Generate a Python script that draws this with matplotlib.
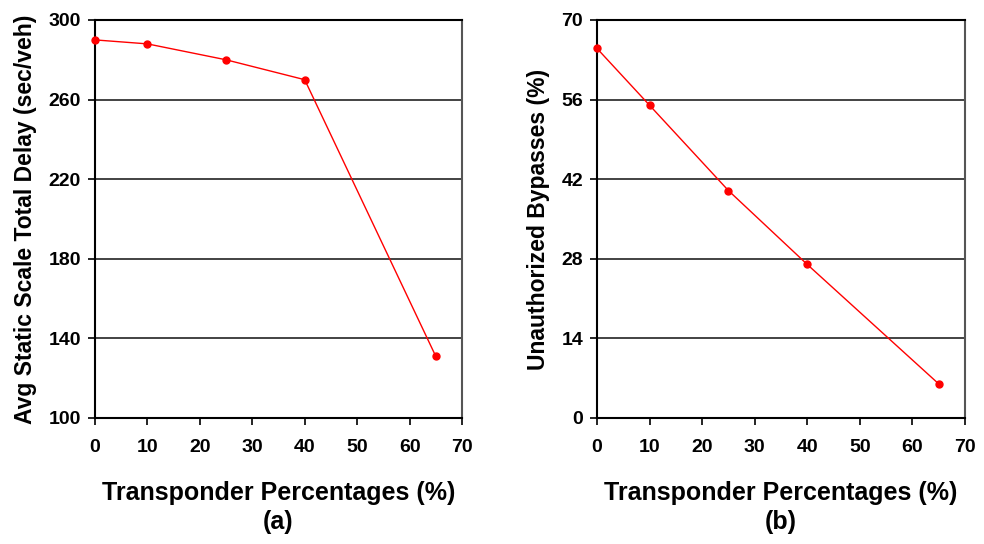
import matplotlib
matplotlib.use("Agg")
import matplotlib.pyplot as plt

x_pct = [0, 10, 25, 40, 65]
delay = [290, 288, 280, 270, 131]
bypass = [65, 55, 40, 27, 6]

xticks = [0, 10, 20, 30, 40, 50, 60, 70]
yticks_a = [100, 140, 180, 220, 260, 300]
yticks_b = [0, 14, 28, 42, 56, 70]

plt.rcParams['font.family'] = ['Liberation Sans', 'DejaVu Sans']
plt.rcParams['font.weight'] = 'bold'

fig = plt.figure(figsize=(9.84, 5.44), dpi=100)
ax1 = fig.add_axes([95/984, 126/544, 367/984, 398/544])
ax2 = fig.add_axes([597/984, 126/544, 368/984, 398/544])

panels = [
    (ax1, delay, yticks_a, "Avg Static Scale Total Delay (sec/veh)", "(a)"),
    (ax2, bypass, yticks_b, "Unauthorized Bypasses (%)", "(b)"),
]
for ax, y, yt, ylab, tag in panels:
    ax.plot(x_pct, y, color='red', lw=1.0, marker='o', ms=5, zorder=3, clip_on=False)
    ax.set_xlim(0, 70)
    ax.set_ylim(yt[0], yt[-1])
    ax.set_xticks(xticks)
    ax.set_yticks(yt)
    ax.tick_params(axis='x', direction='out', length=5, width=1.2, labelsize=14, pad=10)
    ax.tick_params(axis='y', direction='out', length=5, width=1.2, labelsize=14, pad=5)
    for lab in ax.get_xticklabels() + ax.get_yticklabels():
        lab.set_fontweight('bold')
    ax.yaxis.grid(True, color='#222222', lw=1.2)
    ax.set_axisbelow(True)
    for s in ax.spines.values():
        s.set_linewidth(1.5)
        s.set_color('black')
    ax.spines['right'].set_color('#555555')
    ax.set_ylabel(ylab, fontsize=16.5, fontweight='bold', labelpad=8)
    ax.set_xlabel("Transponder Percentages (%)\n" + tag,
                  fontsize=18, fontweight='bold', labelpad=18, linespacing=1.25)

fig.savefig("out.png", dpi=100)
